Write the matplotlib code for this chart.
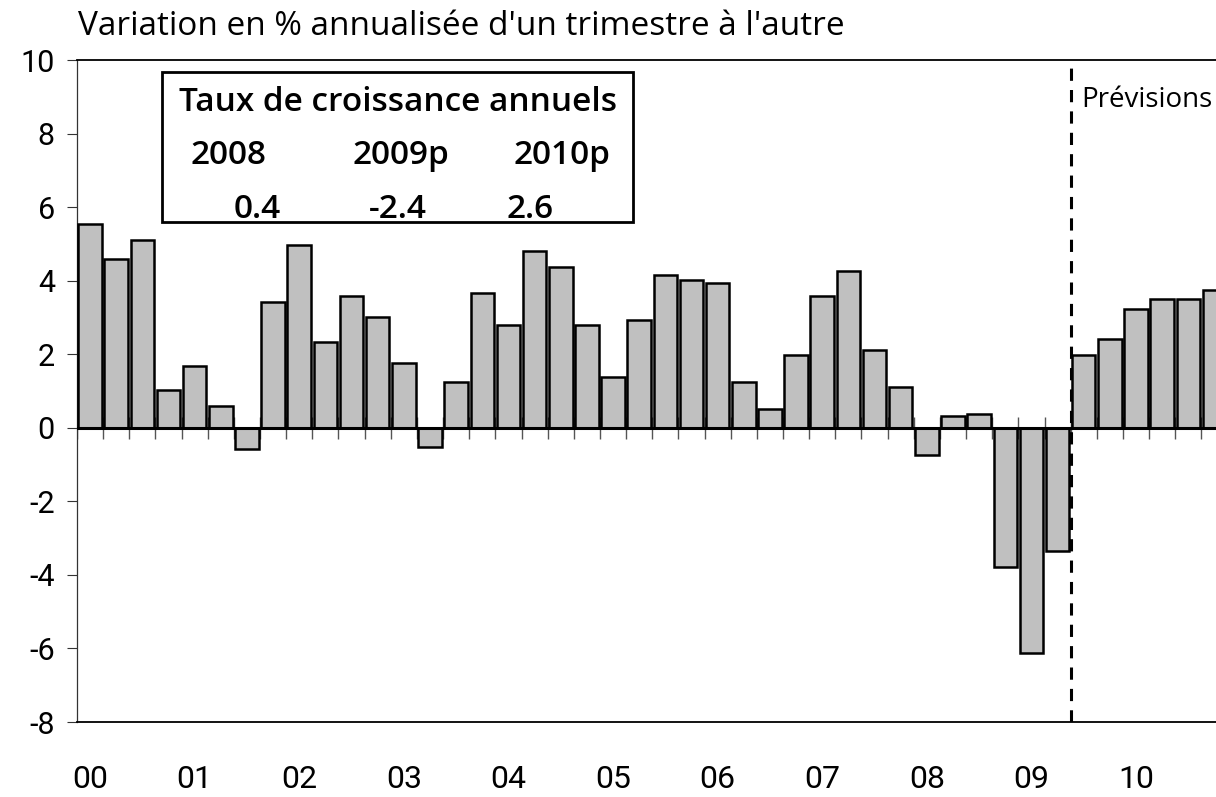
import matplotlib
matplotlib.use('Agg')
import matplotlib.pyplot as plt
import matplotlib.patches as mpatches
import numpy as np

# ── Data: quarterly growth, annualized (2000Q1 - 2010Q4) ──
years = ['00', '01', '02', '03', '04', '05', '06', '07', '08', '09', '10']
growth = [5.55, 4.60, 5.10, 1.03,
          1.69, 0.58, -0.58, 3.43,
          4.96, 2.34, 3.57, 3.00,
          1.75, -0.52, 1.24, 3.66,
          2.79, 4.82, 4.38, 2.79,
          1.39, 2.92, 4.15, 4.02,
          3.94, 1.24, 0.51, 1.98,
          3.57, 4.25, 2.12, 1.10,
          -0.73, 0.31, 0.37, -3.78,
          -6.13, -3.35, 1.98, 2.41,
          3.22, 3.51, 3.51, 3.74]
n_hist = 38  # quarters before the forecast line

box_years = ['2008', '2009p', '2010p']
box_values = ['0.4', '-2.4', '2.6']

BAR_COLOR = '#c0c0c0'
NUM_FONT = ['Roboto', 'DejaVu Sans']
TXT_FONT = ['Open Sans', 'DejaVu Sans']

fig = plt.figure(figsize=(12.16, 7.97), dpi=100)
ax = fig.add_axes([0.0633, 0.0941, 0.9462, 0.8306])

x = np.arange(len(growth))
ax.bar(x, growth, width=0.9, color=BAR_COLOR, edgecolor='black', linewidth=1.8, zorder=3)

ax.set_xlim(-0.5, len(growth) - 0.5)
ax.set_ylim(-8, 10)
ax.set_yticks(np.arange(-8, 11, 2))
ax.set_yticklabels([str(v) for v in range(-8, 11, 2)], fontsize=22, family=NUM_FONT)
ax.tick_params(axis='y', length=7, width=0.8, pad=9, color='#333333')

# year labels under first quarter of each year
ax.set_xticks(np.arange(0, len(growth), 4))
ax.set_xticklabels(years, fontsize=23, family=NUM_FONT)
ax.tick_params(axis='x', length=0, pad=31)

# category axis at zero with crossing tick marks between quarters
ax.axhline(0, color='black', linewidth=2.2, zorder=4)
bounds = np.arange(len(growth) + 1) - 0.5
ax.vlines(bounds, -0.3, 0.3, color='#555555', linewidth=1.0, zorder=2)

# forecast separator
ax.axvline(n_hist - 0.5, color='black', linestyle=(0, (4, 3)), linewidth=2.2, zorder=5)
ax.text(n_hist - 0.08, 8.9, 'Prévisions', fontsize=20, family=TXT_FONT, va='center', ha='left')

for side in ['top', 'bottom']:
    ax.spines[side].set_color('black')
    ax.spines[side].set_linewidth(1.3)
ax.spines['left'].set_color('#333333')
ax.spines['left'].set_linewidth(0.9)
ax.spines['right'].set_visible(False)

fig.text(0.0641, 0.9561, "Variation en % annualisée d'un trimestre à l'autre",
         fontsize=24, family=TXT_FONT, ha='left', va='baseline')

# annual growth box
box = mpatches.Rectangle((0.1332, 0.7215), 0.3873, 0.1882, transform=fig.transFigure,
                         facecolor='white', edgecolor='black', linewidth=2, zorder=10)
fig.patches.append(box)
fig.text(0.3273, 0.8607, 'Taux de croissance annuels', fontsize=24, fontweight='semibold',
         family=TXT_FONT, ha='center', va='baseline', zorder=11)
for xc, yr in zip([0.1875, 0.3298, 0.4622], box_years):
    fig.text(xc, 0.7942, yr, fontsize=24, fontweight='semibold', family=TXT_FONT,
             ha='center', va='baseline', zorder=11)
for xc, val in zip([0.2113, 0.3273, 0.4359], box_values):
    fig.text(xc, 0.7265, val, fontsize=24, fontweight='semibold', family=TXT_FONT,
             ha='center', va='baseline', zorder=11)

plt.savefig('out.png', dpi=100)
plt.close()
